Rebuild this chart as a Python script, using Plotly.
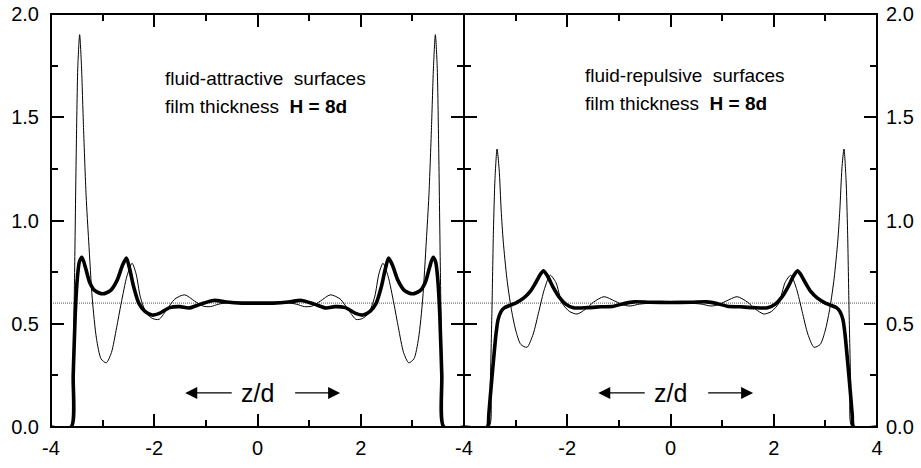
import plotly.graph_objects as go

# ---------------- data ----------------
# fluid-attractive surfaces, thick curve
att_thick_z = [-4.0, -3.61, -3.57, -3.53, -3.49, -3.45, -3.40, -3.33, -3.25, -3.15, -3.00, -2.85, -2.72, -2.62,
               -2.54, -2.48, -2.40, -2.30, -2.18, -2.04, -1.90, -1.70, -1.50, -1.33, -1.10, -0.85, -0.60, -0.30,
               0.0,
               0.30, 0.60, 0.85, 1.10, 1.33, 1.50, 1.70, 1.90, 2.04, 2.18, 2.30, 2.40, 2.48, 2.54, 2.62, 2.72,
               2.85, 3.00, 3.15, 3.25, 3.33, 3.40, 3.45, 3.49, 3.53, 3.57, 3.61, 4.0]
att_thick_v = [0.0, 0.0, 0.25, 0.55, 0.72, 0.80, 0.822, 0.77, 0.70, 0.66, 0.645, 0.66, 0.71, 0.78,
               0.818, 0.77, 0.68, 0.60, 0.56, 0.542, 0.55, 0.578, 0.583, 0.576, 0.595, 0.613, 0.605, 0.600,
               0.600,
               0.600, 0.605, 0.613, 0.595, 0.576, 0.583, 0.578, 0.55, 0.542, 0.56, 0.60, 0.68, 0.77, 0.818, 0.78, 0.71,
               0.66, 0.645, 0.66, 0.70, 0.77, 0.822, 0.80, 0.72, 0.55, 0.25, 0.0, 0.0]

# fluid-attractive surfaces, thin curve
att_thin_z = [-4.0, -3.60, -3.57, -3.54, -3.51, -3.48, -3.445, -3.41, -3.37, -3.32, -3.27, -3.20, -3.12, -3.03,
              -2.93, -2.83, -2.73, -2.64, -2.53, -2.43, -2.35, -2.27, -2.15, -2.03, -1.91, -1.78, -1.60, -1.41,
              -1.22, -1.05, -0.91, -0.75, -0.55, -0.30,
              0.0,
              0.30, 0.55, 0.75, 0.91, 1.05, 1.22, 1.41, 1.60, 1.78, 1.91, 2.03, 2.15, 2.27, 2.35, 2.43, 2.53,
              2.64, 2.73, 2.83, 2.93, 3.03, 3.12, 3.20, 3.27, 3.32, 3.37, 3.41, 3.445, 3.48, 3.51, 3.54, 3.57,
              3.60, 4.0]
att_thin_v = [0.0, 0.0, 0.30, 0.80, 1.35, 1.75, 1.90, 1.75, 1.45, 1.12, 0.90, 0.62, 0.43, 0.33,
              0.311, 0.36, 0.48, 0.60, 0.73, 0.793, 0.74, 0.63, 0.55, 0.525, 0.521, 0.56, 0.62, 0.64,
              0.61, 0.585, 0.583, 0.595, 0.603, 0.600,
              0.600,
              0.600, 0.603, 0.595, 0.583, 0.585, 0.61, 0.64, 0.62, 0.56, 0.521, 0.525, 0.55, 0.63, 0.74, 0.793, 0.73,
              0.60, 0.48, 0.36, 0.311, 0.33, 0.43, 0.62, 0.90, 1.12, 1.45, 1.75, 1.90, 1.75, 1.35, 0.80, 0.30,
              0.0, 0.0]

# fluid-repulsive surfaces, thick curve
rep_thick_z = [-4.0, -3.55, -3.52, -3.49, -3.43, -3.38, -3.34, -3.28, -3.22, -3.10, -3.00, -2.84, -2.72, -2.62,
               -2.52, -2.46, -2.38, -2.28, -2.16, -2.03, -1.88, -1.60, -1.35, -1.10, -0.90, -0.70, -0.40,
               0.0,
               0.40, 0.70, 0.90, 1.10, 1.35, 1.60, 1.88, 2.03, 2.16, 2.28, 2.38, 2.46, 2.52, 2.62, 2.72, 2.84,
               3.00, 3.10, 3.22, 3.28, 3.34, 3.38, 3.43, 3.49, 3.52, 3.55, 4.0]
rep_thick_v = [0.0, 0.0, 0.06, 0.15, 0.32, 0.45, 0.52, 0.56, 0.577, 0.59, 0.60, 0.625, 0.655, 0.695,
               0.74, 0.757, 0.73, 0.68, 0.63, 0.595, 0.577, 0.578, 0.582, 0.585, 0.598, 0.606, 0.604,
               0.603,
               0.604, 0.606, 0.598, 0.585, 0.582, 0.578, 0.577, 0.595, 0.63, 0.68, 0.73, 0.757, 0.74, 0.695, 0.655,
               0.625, 0.60, 0.59, 0.577, 0.56, 0.52, 0.45, 0.32, 0.15, 0.06, 0.0, 0.0]

# fluid-repulsive surfaces, thin curve
rep_thin_z = [-4.0, -3.52, -3.49, -3.46, -3.43, -3.40, -3.36, -3.32, -3.28, -3.24, -3.17, -3.09, -3.00, -2.90,
              -2.78, -2.66, -2.55, -2.44, -2.33, -2.22, -2.10, -1.96, -1.81, -1.65, -1.49, -1.29, -1.08, -0.90,
              -0.78, -0.60, -0.35,
              0.0,
              0.35, 0.60, 0.78, 0.90, 1.08, 1.29, 1.49, 1.65, 1.81, 1.96, 2.10, 2.22, 2.33, 2.44, 2.55, 2.66,
              2.78, 2.90, 3.00, 3.09, 3.17, 3.24, 3.28, 3.32, 3.36, 3.40, 3.43, 3.46, 3.49, 3.52, 4.0]
rep_thin_v = [0.0, 0.0, 0.22, 0.55, 0.95, 1.20, 1.346, 1.25, 1.05, 0.90, 0.72, 0.58, 0.47, 0.40,
              0.386, 0.45, 0.56, 0.67, 0.735, 0.70, 0.60, 0.56, 0.547, 0.57, 0.605, 0.631, 0.61, 0.59,
              0.586, 0.595, 0.600,
              0.600,
              0.600, 0.595, 0.586, 0.59, 0.61, 0.631, 0.605, 0.57, 0.547, 0.56, 0.60, 0.70, 0.735, 0.67, 0.56, 0.45,
              0.386, 0.40, 0.47, 0.58, 0.72, 0.90, 1.05, 1.25, 1.346, 1.20, 0.95, 0.55, 0.22, 0.0, 0.0]

bulk_density = 0.6
z_range = [-4, 4]
x_ticks_left = [-4, -2, 0, 2]
x_labels_left = ["-4", "-2", "0", "2"]
x_ticks_right = [-4, -2, 0, 2, 4]
x_labels_right = ["-4", "-2", "0", "2", "4"]
y_ticks = [0.0, 0.5, 1.0, 1.5, 2.0]
y_tick_labels = ["0.0", "0.5", "1.0", "1.5", "2.0"]

# ---------------- figure ----------------
FONT = "Liberation Sans, Arial, sans-serif"
fig = go.Figure()

def add_panel(zt, vt, zn, vn, xa, ya):
    fig.add_trace(go.Scatter(x=z_range, y=[bulk_density, bulk_density], mode="lines",
                             line=dict(color="#555", width=1, dash="1px,1px"), xaxis=xa, yaxis=ya,
                             showlegend=False, hoverinfo="skip"))
    fig.add_trace(go.Scatter(x=zn, y=vn, mode="lines", line=dict(color="black", width=1, shape="spline",
                                                                 smoothing=0.7),
                             xaxis=xa, yaxis=ya, showlegend=False))
    fig.add_trace(go.Scatter(x=zt, y=vt, mode="lines", line=dict(color="black", width=3.6, shape="spline",
                                                                 smoothing=0.7),
                             xaxis=xa, yaxis=ya, showlegend=False))

add_panel(att_thick_z, att_thick_v, att_thin_z, att_thin_v, "x", "y")
add_panel(rep_thick_z, rep_thick_v, rep_thin_z, rep_thin_v, "x2", "y2")

minor_x = dict(dtick=1, tick0=-4, ticklen=7, ticks="inside", tickwidth=1.5, tickcolor="black")
minor_y = dict(dtick=0.25, tick0=0, ticklen=7, ticks="inside", tickwidth=1.5, tickcolor="black")
axis_common = dict(showgrid=False, zeroline=False, showline=False,
                   ticks="inside", ticklen=13, tickwidth=1.5, tickcolor="black", mirror="allticks",
                   automargin=False, ticklabeloverflow="allow",
                   tickfont=dict(family=FONT, size=20, color="black"))

fig.update_layout(
    width=921, height=468,
    margin=dict(l=51, r=44, t=14, b=41),
    paper_bgcolor="white", plot_bgcolor="white",
    xaxis=dict(domain=[0, 0.5], range=z_range, tickvals=x_ticks_left, ticktext=x_labels_left, anchor="y",
               minor=minor_x, ticklabelstandoff=7, **axis_common),
    xaxis2=dict(domain=[0.5, 1], range=z_range, tickvals=x_ticks_right, ticktext=x_labels_right, anchor="y2",
                minor=minor_x, ticklabelstandoff=7, **axis_common),
    yaxis=dict(domain=[0, 1], range=[0, 2], tickvals=y_ticks, ticktext=y_tick_labels, anchor="x",
               minor=minor_y, ticklabelstandoff=11, **axis_common),
    yaxis2=dict(domain=[0, 1], range=[0, 2], tickvals=y_ticks, ticktext=y_tick_labels, anchor="x2",
                side="right", minor=minor_y, ticklabelstandoff=8, **axis_common),
)

# frame of each panel
for xr, yr in (("x", "y"), ("x2", "y2")):
    fig.add_shape(type="rect", xref=xr + " domain", yref=yr + " domain", x0=0, x1=1, y0=0, y1=1,
                  line=dict(color="black", width=2), layer="above")

NB = "\u00a0"
text_font = dict(family=FONT, size=19, color="black")
annots = [
    dict(x=-1.84, y=1.69, xref="x", yref="y", text="fluid-attractive" + NB + NB + "surfaces"),
    dict(x=-1.84, y=1.55, xref="x", yref="y", text="film thickness" + NB + NB + "<b>H = 8d</b>"),
    dict(x=-1.69, y=1.70, xref="x2", yref="y2", text="fluid-repulsive" + NB + NB + "surfaces"),
    dict(x=-1.69, y=1.565, xref="x2", yref="y2", text="film thickness" + NB + NB + "<b>H = 8d</b>"),
]
for a in annots:
    fig.add_annotation(showarrow=False, xanchor="left", yanchor="middle", font=text_font, **a)

# z/d labels with arrows
for xr, yr in (("x", "y"), ("x2", "y2")):
    fig.add_annotation(x=0, y=0.165, xref=xr, yref=yr, text="z/d", showarrow=False,
                       font=dict(family=FONT, size=25, color="black"))
    fig.add_annotation(x=-1.40, y=0.165, ax=-0.47, ay=0.165, xref=xr, yref=yr, axref=xr, ayref=yr,
                       text="", showarrow=True, arrowhead=2, arrowsize=2.0, arrowwidth=1.2, arrowcolor="black")
    fig.add_annotation(x=1.60, y=0.165, ax=0.70, ay=0.165, xref=xr, yref=yr, axref=xr, ayref=yr,
                       text="", showarrow=True, arrowhead=2, arrowsize=2.0, arrowwidth=1.2, arrowcolor="black")

# remove the default 8px page margin so the figure fills the window exactly
fig.write_html("out.html", config={"displayModeBar": False},
               post_script="document.body.style.margin='0';")
